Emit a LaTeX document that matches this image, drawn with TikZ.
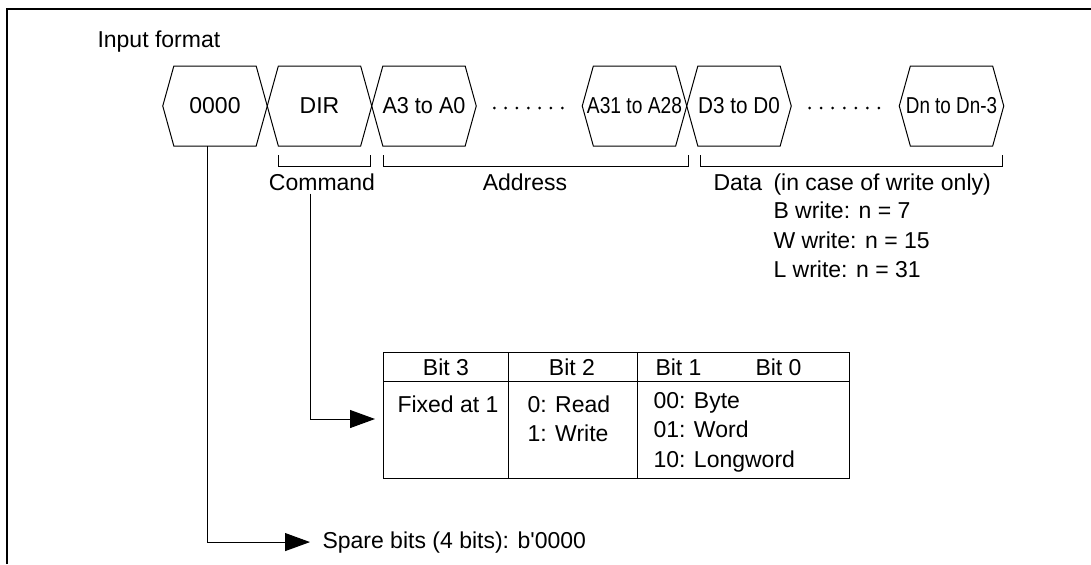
\documentclass[tikz,border=0pt]{standalone}
\usepackage{fontspec}
\setmainfont{Liberation Sans}
\usepackage{graphicx}
\usetikzlibrary{positioning,shapes.symbols,arrows.meta,calc}

\tikzset{
  field/.style={draw, shape=signal, signal to=west and east, signal pointer angle=149,
    minimum width=52.25pt, minimum height=40pt, inner sep=0pt, outer sep=0pt},
  lbl/.style={inner sep=0pt},
  tip/.style={-{Triangle[length=12.5pt,width=9pt]}},
}

\begin{document}
\begin{tikzpicture}[x=0.5pt,y=-0.5pt,line width=0.5pt,font=\fontsize{11.5}{14}\selectfont]
    \useasboundingbox (0,0) rectangle (1091,564);
    \draw [line width=0.75pt] (7,564) -- (7,9) -- (1091,9);
    \node [lbl, anchor=base west] (title) at (97,47) {Input format};

    % fields of the input frame
    \node [field] (zero) at (215,106) {0000};
    \node [field, right=0pt of zero] (dir) {DIR};
    \node [field, right=0pt of dir] (alow) {\makebox[0pt]{\scalebox{0.94}[1]{A3 to A0}}};
    \node [field, right=53pt of alow] (ahigh) {\makebox[0pt]{\scalebox{0.835}[1]{A31 to A28}}};
    \node [field, right=0pt of ahigh] (dlow) {\makebox[0pt]{\scalebox{0.9}[1]{D3 to D0}}};
    \node [field, right=54pt of dlow] (dhigh) {\makebox[0pt]{\scalebox{0.82}[1]{Dn to Dn-3}}};
    \foreach \i in {0,...,6} {
        \fill ($(alow.east)!{0.17+0.107*\i}!(ahigh.west)$) ++(0,2) circle (1.5);
        \fill ($(dlow.east)!{0.17+0.107*\i}!(dhigh.west)$) ++(0,2) circle (1.5);
    }

    % brackets and their labels
    \draw (278,155) -- (278,166) -- (370,166) -- (370,155);
    \draw (383,155) -- (383,166) -- (688,166) -- (688,155);
    \draw (700,155) -- (700,166) -- (1002,166) -- (1002,155);
    \node [lbl, anchor=base] (cmd) at (322,190) {Command};
    \node [lbl, anchor=base] (addr) at (525,190) {Address};
    \node [lbl, anchor=base west] (data) at (713,190) {Data};
    \node [lbl, anchor=base west] (only) at (773,190) {(in case of write only)};
    \node [lbl, anchor=base west] (bwrite) at (773,218) {B write: n = 7};
    \node [lbl, anchor=base west] (wwrite) at (773,248) {W write: n = 15};
    \node [lbl, anchor=base west] (lwrite) at (773,277) {L write: n = 31};

    % command bits
    \draw (383,352) rectangle (849,478);
    \draw (383,381) -- (849,381);
    \draw (508,352) -- (508,478);
    \draw (637,352) -- (637,478);
    \node [lbl, anchor=base] (bthree) at (446,375) {Bit 3};
    \node [lbl, anchor=base] (btwo) at (572,375) {Bit 2};
    \node [lbl, anchor=base west] (bone) at (655,375) {Bit 1};
    \node [lbl, anchor=base west] (bzero) at (755,375) {Bit 0};
    \node [lbl, anchor=base west] (fixed) at (397,412) {Fixed at 1};
    \node [lbl, anchor=base west] (read) at (527,412) {0: Read};
    \node [lbl, anchor=base west] (write) at (527,441) {1: Write};
    \node [lbl, anchor=base west] (byte) at (653,408) {00: Byte};
    \node [lbl, anchor=base west] (word) at (653,437) {01: Word};
    \node [lbl, anchor=base west] (lword) at (653,467) {10: Longword};

    \coordinate (cmdin) at (375,419);
    \draw [tip] ([shift={(-12,3)}]cmd.south) |- (cmdin);

    \node [lbl, anchor=base west] (spare) at (322,548) {Spare bits (4 bits): b\textquotesingle 0000};
    \draw [tip] ([xshift=-4pt]zero.south) |- ([xshift=-6pt]spare.west);
\end{tikzpicture}
\end{document}
